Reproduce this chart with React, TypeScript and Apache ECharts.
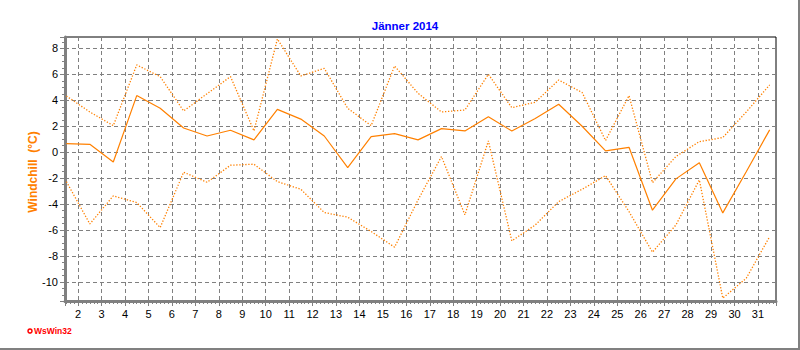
import React, { useEffect, useRef } from "react";
import * as echarts from "echarts";

const days = [1.5, 2.5, 3.5, 4.5, 5.5, 6.5, 7.5, 8.5, 9.5, 10.5, 11.5, 12.5, 13.5, 14.5, 15.5, 16.5, 17.5, 18.5, 19.5, 20.5, 21.5, 22.5, 23.5, 24.5, 25.5, 26.5, 27.5, 28.5, 29.5, 30.5, 31.5];

const meanValues = [0.66, 0.61, -0.75, 4.36, 3.38, 1.87, 1.25, 1.69, 0.95, 3.3, 2.55, 1.25, -1.18, 1.2, 1.43, 0.95, 1.82, 1.64, 2.74, 1.64, 2.6, 3.69, 2.0, 0.1, 0.38, -4.46, -2.05, -0.8, -4.67, -1.5, 1.72];

const maxValues = [4.33, 3.1, 2.05, 6.72, 5.82, 3.18, 4.5, 5.82, 1.64, 8.72, 5.87, 6.46, 3.38, 2.05, 6.64, 4.54, 3.1, 3.25, 6.0, 3.43, 3.85, 5.56, 4.6, 0.9, 4.36, -2.34, -0.33, 0.82, 1.13, 3.1, 5.18];

const minValues = [-2.26, -5.52, -3.36, -3.87, -5.8, -1.54, -2.31, -1.0, -0.92, -2.26, -2.85, -4.64, -5.0, -6.1, -7.31, -3.67, -0.33, -4.82, 0.87, -6.82, -5.6, -3.8, -2.85, -1.8, -4.57, -7.69, -5.6, -2.13, -11.23, -9.7, -6.49];

const titleText = "Jänner 2014";
const yName = "Windchill  (°C)";
const logoText = "WsWin32";

const ORANGE = "#FF8000";
const GREY = "#808080";
const FONT = "Liberation Sans, Arial, sans-serif";

function pairs(vals: number[]) {
  return vals.map((v, i) => [days[i], v]);
}

export default function App() {
  const ref = useRef<HTMLDivElement>(null);
  useEffect(() => {
    if (!ref.current) return;
    const chart = echarts.init(ref.current, null, { renderer: "svg" });
    const lineBase = { type: "line", showSymbol: false, symbol: "none", silent: true };
    chart.setOption({
      animation: false,
      backgroundColor: "#ffffff",
      title: {
        text: titleText,
        left: 400,
        top: 15,
        textAlign: "center",
        textStyle: { color: "#0000FF", fontSize: 11.5, fontWeight: "bold", fontFamily: FONT },
      },
      grid: {
        left: 65,
        top: 37,
        width: 711,
        height: 264,
        show: true,
        borderColor: "#000000",
        borderWidth: 1,
        backgroundColor: "transparent",
      },
      xAxis: {
        type: "value",
        min: 1.44,
        max: 31.77,
        minInterval: 1,
        maxInterval: 1,
        splitNumber: 30,
        axisLine: { show: true, onZero: false, lineStyle: { color: GREY, width: 3 } },
        axisTick: { show: true, length: 5, lineStyle: { color: GREY, width: 1 } },
        minorTick: { show: true, splitNumber: 6, length: 3, lineStyle: { color: GREY, width: 1 } },
        axisLabel: {
          showMinLabel: false,
          showMaxLabel: false,
          color: "#000",
          fontSize: 11,
          fontFamily: FONT,
          margin: 7,
          formatter: (v: number) => String(Math.round(v)),
        },
        splitLine: {
          show: true,
          showMinLine: false,
          showMaxLine: false,
          lineStyle: { color: GREY, width: 1, type: [4, 3] },
        },
      },
      yAxis: {
        type: "value",
        min: -11.45,
        max: 8.87,
        minInterval: 2,
        maxInterval: 2,
        splitNumber: 10,
        axisLine: { show: true, onZero: false, lineStyle: { color: GREY, width: 3 } },
        axisTick: { show: true, length: 5, lineStyle: { color: GREY, width: 1 } },
        minorTick: { show: true, splitNumber: 4, length: 3, lineStyle: { color: GREY, width: 1 } },
        axisLabel: {
          showMinLabel: false,
          showMaxLabel: false,
          color: "#000",
          fontSize: 11,
          fontFamily: FONT,
          margin: 7,
          formatter: (v: number) => String(Math.round(v)),
        },
        splitLine: {
          show: true,
          showMinLine: false,
          showMaxLine: false,
          lineStyle: { color: GREY, width: 1, type: [4, 3] },
        },
      },
      series: [
        { ...lineBase, name: "max", data: pairs(maxValues), lineStyle: { color: ORANGE, width: 1.3, type: [1.3, 1.7] } },
        { ...lineBase, name: "min", data: pairs(minValues), lineStyle: { color: ORANGE, width: 1.3, type: [1.3, 1.7] } },
        { ...lineBase, name: "mean", data: pairs(meanValues), lineStyle: { color: ORANGE, width: 1.2 } },
      ],
      graphic: [
        {
          type: "text",
          x: 33,
          y: 172,
          rotation: Math.PI / 2,
          style: {
            text: yName,
            fill: ORANGE,
            font: "bold 12px " + FONT,
            textAlign: "center",
            textVerticalAlign: "middle",
          },
        },
        {
          type: "circle",
          shape: { cx: 30, cy: 331, r: 2 },
          style: { fill: "#ffffff", stroke: "#FF0000", lineWidth: 1.5 },
        },
        {
          type: "text",
          x: 34,
          y: 331,
          style: {
            text: logoText,
            fill: "#FF0000",
            font: "bold 8.5px " + FONT,
            textAlign: "left",
            textVerticalAlign: "middle",
          },
        },
        {
          type: "line",
          shape: { x1: 0, y1: 349, x2: 800, y2: 349 },
          style: { stroke: GREY, lineWidth: 2 },
        },
        {
          type: "line",
          shape: { x1: 799, y1: 0, x2: 799, y2: 350 },
          style: { stroke: GREY, lineWidth: 2 },
        },
      ],
    });
    return () => chart.dispose();
  }, []);
  return (
    <div
      ref={ref}
      style={{ position: "fixed", left: 0, top: 0, width: 800, height: 350 }}
    />
  );
}
